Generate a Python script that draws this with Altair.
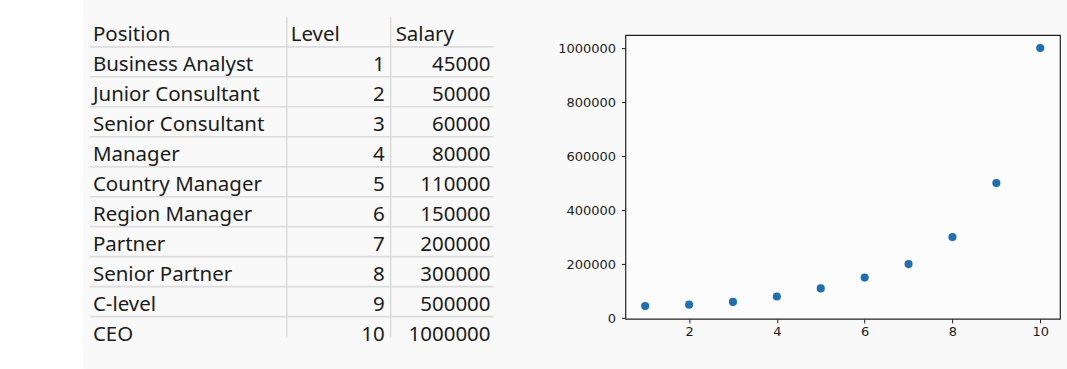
import altair as alt
import pandas as pd

# ---- data ----
positions = ["Business Analyst", "Junior Consultant", "Senior Consultant", "Manager",
             "Country Manager", "Region Manager", "Partner", "Senior Partner",
             "C-level", "CEO"]
levels = [1, 2, 3, 4, 5, 6, 7, 8, 9, 10]
salaries = [45000, 50000, 60000, 80000, 110000, 150000, 200000, 300000, 500000, 1000000]
headers = ["Position", "Level", "Salary"]
x_ticks = [2, 4, 6, 8, 10]
y_ticks = [0, 200000, 400000, 600000, 800000, 1000000]

BG = "#f8f9f8"
LINE = "#dcdcdc"
TXT = "#1b1b1b"
FONT = "Noto Sans"
FS = 20.5

rows = pd.DataFrame({
    "position": positions,
    "level": [str(v) for v in levels],
    "salary": [str(v) for v in salaries],
    "row": list(range(1, len(positions) + 1)),
})
head = pd.DataFrame({"label": headers, "row": [0, 0, 0], "col": [93, 291, 396]})
hlines = pd.DataFrame({"row": list(range(0, len(positions)))})
vlines = pd.DataFrame({"col": [287, 391]})

TW, TH = 560, 284
D0 = -6.0 / 30.0
xs = alt.Scale(domain=[0, TW], nice=False, zero=False)
ys = alt.Scale(domain=[D0, D0 + TH / 30.0], nice=False, zero=False, reverse=True)
OFF = 5.7

strip = alt.Chart(pd.DataFrame({"a": [0]})).mark_rect(color="white").encode(
    x=alt.X(datum=0, scale=xs, axis=None),
    x2=alt.X2(datum=83),
    y=alt.Y(datum=D0 - 35.0 / 30.0, scale=ys, axis=None),
    y2=alt.Y2(datum=D0 + 334.0 / 30.0),
)

hrules = alt.Chart(hlines).mark_rule(color=LINE, strokeWidth=1.6, yOffset=OFF).encode(
    x=alt.X(datum=90, scale=xs, axis=None),
    x2=alt.X2(datum=494),
    y=alt.Y("row:Q", scale=ys, axis=None),
)
vrules = alt.Chart(vlines).mark_rule(color=LINE, strokeWidth=1.6, yOffset=OFF).encode(
    x=alt.X("col:Q", scale=xs, axis=None),
    y=alt.Y(datum=-1, scale=ys, axis=None),
    y2=alt.Y2(datum=9.9),
)

tprops = dict(font=FONT, fontSize=FS, color=TXT, baseline="alphabetic")
htext = alt.Chart(head).mark_text(align="left", **tprops).encode(
    x=alt.X("col:Q", scale=xs, axis=None),
    y=alt.Y("row:Q", scale=ys, axis=None),
    text="label:N",
)
ptext = alt.Chart(rows).mark_text(align="left", **tprops).encode(
    x=alt.X(datum=93, scale=xs, axis=None),
    y=alt.Y("row:Q", scale=ys, axis=None),
    text="position:N",
)
ltext = alt.Chart(rows).mark_text(align="right", **tprops).encode(
    x=alt.X(datum=385, scale=xs, axis=None),
    y=alt.Y("row:Q", scale=ys, axis=None),
    text="level:N",
)
stext = alt.Chart(rows).mark_text(align="right", **tprops).encode(
    x=alt.X(datum=491, scale=xs, axis=None),
    y=alt.Y("row:Q", scale=ys, axis=None),
    text="salary:N",
)

table = alt.layer(strip, hrules, vrules, htext, ptext, ltext, stext).properties(
    width=TW, height=TH, view=alt.ViewConfig(strokeOpacity=0)
)

sdf = pd.DataFrame({"level": levels, "salary": salaries})
axis_common = dict(domain=False, grid=False, ticks=True, tickSize=4, tickColor="#222",
                   labelFont="DejaVu Sans", labelFontSize=13, labelColor="#1b1b1b",
                   title=None)
scatter = alt.Chart(sdf).mark_circle(size=66, opacity=1, color="#1f6fb4").encode(
    x=alt.X("level:Q", scale=alt.Scale(domain=[0.55, 10.45], nice=False, zero=False),
            axis=alt.Axis(values=x_ticks, labelPadding=3, **axis_common)),
    y=alt.Y("salary:Q", scale=alt.Scale(domain=[-2750, 1047750], nice=False, zero=False),
            axis=alt.Axis(values=y_ticks, format="d", labelPadding=6, **axis_common)),
).properties(width=435, height=TH,
             view=alt.ViewConfig(stroke="#222", strokeWidth=1.2, fill="#fbfcfb"))

chart = alt.hconcat(table, scatter, spacing=66, bounds="flush").properties(
    background=BG,
    padding={"left": 0, "top": 0, "right": 6, "bottom": 0},
)

chart.save("out.html", embed_options={"renderer": "svg", "actions": False})
